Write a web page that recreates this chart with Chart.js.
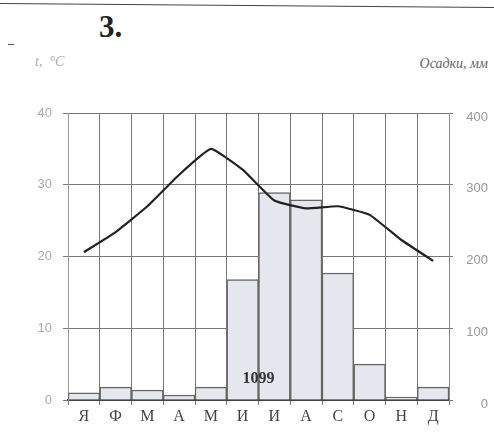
<!doctype html>
<html lang="ru">

<head>
  <meta charset="utf-8">
  <title>Климатограмма 3</title>
  <style>
    * {
      margin: 0;
      padding: 0;
    }

    body {
      width: 494px;
      height: 432px;
      position: relative;
      overflow: hidden;
      background: #fff;
      font-family: "Liberation Serif", serif;
    }

    .top-rule {
      position: absolute;
      left: -2px;
      top: 5px;
      width: 500px;
      border-top: 1.5px solid #444;
      transform: rotate(0.45deg);
    }

    .dash {
      position: absolute;
      left: 8px;
      top: 44px;
      width: 6px;
      border-top: 1.5px solid #555;
    }

    .num {
      position: absolute;
      left: 99px;
      top: 9px;
      font-size: 31px;
      font-weight: bold;
      color: #222;
    }

    .t-label {
      position: absolute;
      left: 35px;
      top: 54px;
      font-size: 14px;
      font-style: italic;
      color: #aaa;
      white-space: pre;
    }

    .p-label {
      position: absolute;
      right: 6px;
      top: 56px;
      font-size: 14px;
      font-style: italic;
      color: #666;
    }

    .chart-box {
      position: absolute;
      left: 0;
      top: 0;
      width: 494px;
      height: 432px;
    }
  </style>
</head>

<body>
  <div class="top-rule"></div>
  <div class="dash"></div>
  <div class="num">3.</div>
  <div class="t-label">t,  °C</div>
  <div class="p-label">Осадки, мм</div>
  <div class="chart-box">
    <canvas id="myChart"></canvas>
  </div>

  <script src="https://cdn.jsdelivr.net/npm/chart.js"></script>

  <script>
    const months = ['Я', 'Ф', 'М', 'А', 'М', 'И', 'И', 'А', 'С', 'О', 'Н', 'Д'];
    const temperature = [20.6, 23.4, 27, 31.4, 35, 32.1, 27.8, 26.7, 27, 25.8, 22.3, 19.4]; // °C
    const precipitation = [10, 18, 14, 7, 18, 168, 289, 279, 177, 50, 4, 18]; // мм
    const annualTotal = '1099';

    // подпись годовой суммы осадков между июнем и июлем
    const totalLabel = {
      id: 'totalLabel',
      afterDatasetsDraw(chart) {
        const x = chart.scales.x, y = chart.scales.y;
        const ctx = chart.ctx;
        ctx.save();
        ctx.font = 'bold 16px "Liberation Serif", serif';
        ctx.fillStyle = '#333';
        ctx.textAlign = 'center';
        ctx.textBaseline = 'middle';
        ctx.fillText(annualTotal, (x.getPixelForValue(5) + x.getPixelForValue(6)) / 2, y.getPixelForValue(2.9));
        ctx.restore();
      }
    };

    const config = {
      data: {
        labels: months,
        datasets: [{
          type: 'line',
          data: temperature,
          yAxisID: 'y',
          borderColor: '#222',
          borderWidth: 2.2,
          tension: 0.12,
          pointRadius: 0,
          order: 0
        }, {
          type: 'bar',
          data: precipitation,
          yAxisID: 'y1',
          backgroundColor: '#e4e8ee',
          borderColor: '#666',
          borderWidth: 1.5,
          barPercentage: 1,
          categoryPercentage: 1,
          order: 1
        }]
      },
      options: {
        responsive: false,
        animation: false,
        layout: {
          padding: { top: 113, right: 6, bottom: 0, left: 0 }
        },
        plugins: {
          legend: { display: false },
          tooltip: { enabled: false }
        },
        scales: {
          x: {
            z: 1,
            grid: { offset: true, color: '#777', tickLength: 5, lineWidth: 1 },
            border: { color: '#444', width: 2 },
            ticks: {
              color: '#444',
              padding: 2,
              font: { family: '"Liberation Serif", serif', size: 16 }
            },
            afterFit(s) { s.height = 32; }
          },
          y: {
            z: 1,
            position: 'left',
            min: 0,
            max: 40,
            grid: { color: '#777', tickLength: 5 },
            border: { color: '#999' },
            ticks: {
              stepSize: 10,
              color: '#aaa',
              padding: 11,
              font: { family: '"Liberation Sans", sans-serif', size: 13 }
            },
            afterFit(s) { s.width = 68; }
          },
          y1: {
            position: 'right',
            min: 0,
            max: 400,
            grid: { drawOnChartArea: false, color: '#777', tickLength: 4 },
            border: { color: '#888' },
            ticks: {
              stepSize: 100,
              color: '#999',
              padding: 10,
              labelOffset: 4,
              crossAlign: 'far',
              font: { family: '"Liberation Sans", sans-serif', size: 13 }
            },
            afterFit(s) { s.width = 39; }
          }
        }
      },
      plugins: [totalLabel]
    };

    const canvas = document.getElementById('myChart');
    canvas.width = 494;
    canvas.height = 432;
    const myChart = new Chart(canvas, config);
  </script>
</body>

</html>
